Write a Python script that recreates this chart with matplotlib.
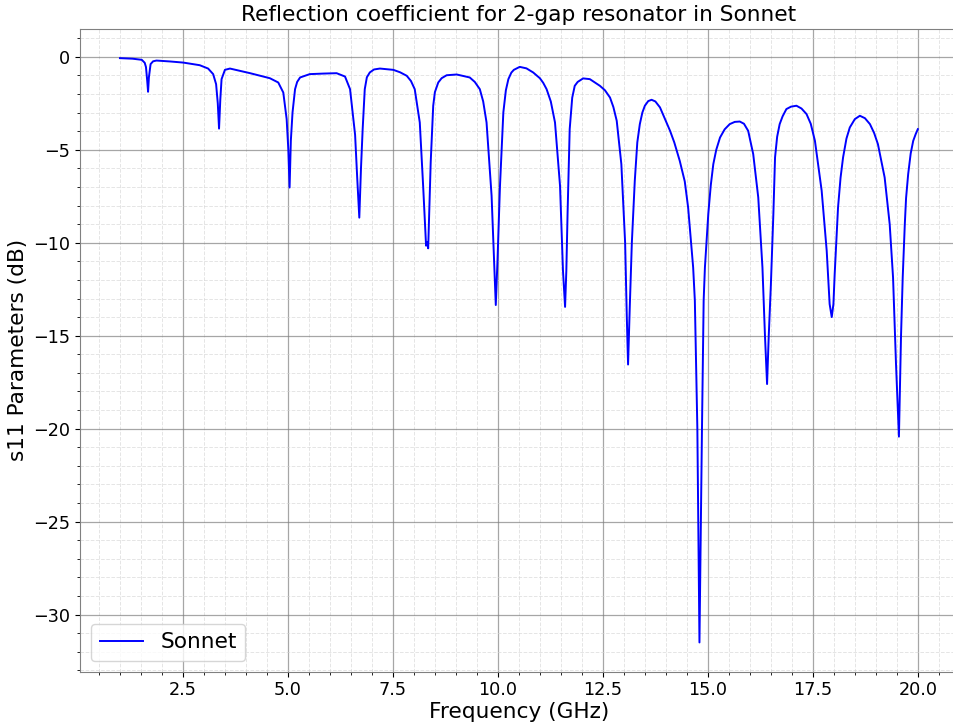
import matplotlib.pyplot as plt
from matplotlib.ticker import AutoMinorLocator

# frequency (GHz) and s11 (dB)
freq = [1.00, 1.30, 1.52, 1.59, 1.62, 1.65, 1.67, 1.69, 1.73, 1.79, 1.87, 2.20, 2.51, 2.90, 3.10,
        3.22, 3.29, 3.33, 3.36, 3.39, 3.42, 3.50, 3.62, 4.10, 4.57, 4.77, 4.89, 4.97, 5.01, 5.04,
        5.07, 5.11, 5.17, 5.22, 5.29, 5.52, 5.85, 6.16, 6.36, 6.48, 6.60, 6.65, 6.70, 6.74, 6.78, 6.83,
        6.88, 6.95, 7.05, 7.19, 7.51, 7.67, 7.83, 7.93, 8.02, 8.14, 8.22, 8.29, 8.32, 8.34, 8.40, 8.46,
        8.50, 8.58, 8.66, 8.78, 9.02, 9.33, 9.45, 9.57, 9.65, 9.73, 9.85, 9.91, 9.95, 9.99, 10.05,
        10.13, 10.19, 10.25, 10.32, 10.38, 10.52, 10.68, 10.84, 11.00, 11.08, 11.16, 11.26, 11.36,
        11.48, 11.55, 11.60, 11.63, 11.66, 11.71, 11.77, 11.83, 11.90, 12.03, 12.19, 12.43, 12.55,
        12.67, 12.75, 12.83, 12.94, 13.03, 13.07, 13.10, 13.14, 13.19, 13.26, 13.32, 13.38, 13.44,
        13.50, 13.58, 13.66, 13.75, 13.86, 14.10, 14.20, 14.33, 14.45, 14.53, 14.65, 14.69, 14.75,
        14.80, 14.86, 14.90, 14.93, 15.01, 15.07, 15.13, 15.20, 15.29, 15.40, 15.52, 15.64, 15.76,
        15.86, 15.96, 16.08, 16.20, 16.30, 16.36, 16.41, 16.45, 16.50, 16.56, 16.60, 16.65, 16.71,
        16.78, 16.87, 16.98, 17.11, 17.23, 17.35, 17.45, 17.55, 17.71, 17.83, 17.90, 17.95, 17.99,
        18.02, 18.10, 18.16, 18.22, 18.30, 18.38, 18.50, 18.62, 18.74, 18.86, 18.96, 19.05, 19.21,
        19.33, 19.41, 19.48, 19.55, 19.60, 19.64, 19.69, 19.72, 19.77, 19.83, 19.89, 19.95, 20.00]
s11 = [-0.07, -0.10, -0.16, -0.32, -0.55, -1.30, -1.88, -1.10, -0.39, -0.24, -0.20, -0.25, -0.31, -0.45, -0.63,
       -0.93, -1.47, -2.50, -3.86, -2.30, -1.20, -0.70, -0.63, -0.88, -1.15, -1.38, -1.92, -3.35, -5.00, -7.03,
       -4.50, -2.99, -1.74, -1.35, -1.11, -0.93, -0.90, -0.88, -1.06, -1.74, -4.20, -6.50, -8.65, -6.00, -3.89, -1.74,
       -1.10, -0.84, -0.68, -0.63, -0.70, -0.83, -1.02, -1.30, -1.74, -3.53, -6.94, -10.16, -9.98, -10.30, -5.68, -2.63,
       -1.90, -1.38, -1.15, -0.99, -0.95, -1.11, -1.35, -1.74, -2.40, -3.53, -7.47, -11.00, -13.35, -11.00, -6.94,
       -2.99, -1.80, -1.20, -0.85, -0.70, -0.54, -0.62, -0.84, -1.15, -1.40, -1.74, -2.40, -3.53,
       -6.94, -11.50, -13.45, -11.50, -8.37, -3.89, -2.20, -1.56, -1.35, -1.16, -1.20, -1.56, -1.80,
       -2.19, -2.70, -3.44, -5.77, -10.00, -14.00, -16.55, -13.50, -10.00, -6.67, -4.60, -3.62, -3.00,
       -2.63, -2.38, -2.31, -2.40, -2.72, -3.98, -4.60, -5.59, -6.70, -8.10, -11.33, -13.10, -20.00,
       -31.50, -20.00, -13.10, -11.33, -8.46, -6.90, -5.77, -5.00, -4.34, -3.90, -3.62, -3.50, -3.48,
       -3.60, -3.98, -5.23, -7.56, -11.33, -15.00, -17.60, -15.00, -12.30, -8.46, -5.41, -4.30, -3.62,
       -3.20, -2.81, -2.68, -2.63, -2.78, -3.08, -3.60, -4.52, -7.20, -10.43, -13.30, -14.00, -13.30,
       -11.69, -8.10, -6.50, -5.41, -4.40, -3.80, -3.35, -3.17, -3.30, -3.62, -4.10, -4.70, -6.49,
       -9.00, -11.87, -16.50, -20.43, -15.00, -11.87, -9.00, -7.60, -6.31, -5.20, -4.52, -4.15, -3.89]

fig = plt.figure(figsize=(9.54, 7.23), dpi=100)
ax = fig.add_axes([0.0839, 0.071, 0.920, 0.889])

ax.plot(freq, s11, color="blue", linewidth=1.4, label="Sonnet")

ax.set_title("Reflection coefficient for 2-gap resonator in Sonnet", fontsize=15.6)
ax.set_xlabel("Frequency (GHz)", fontsize=15.6, labelpad=2)
ax.set_ylabel("s11 Parameters (dB)", fontsize=15.6)
ax.tick_params(labelsize=12.7)

ax.xaxis.set_minor_locator(AutoMinorLocator(5))
ax.yaxis.set_minor_locator(AutoMinorLocator(5))
ax.grid(which="major", color="gray", linewidth=0.9, alpha=0.7)
ax.grid(which="minor", color="lightgray", linestyle="--", linewidth=0.7, alpha=0.6)
for sp in ax.spines.values():
    sp.set_color("gray")

ax.legend(loc="lower left", fontsize=15.6)

plt.savefig("out.png")
plt.close()
